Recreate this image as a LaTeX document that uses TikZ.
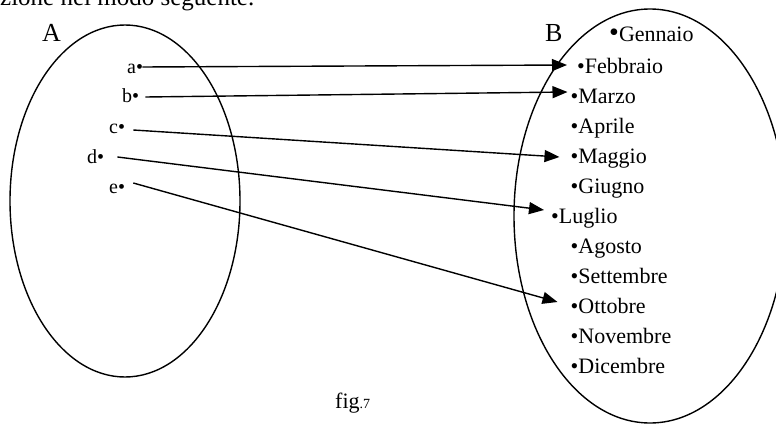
\documentclass[tikz,border=0pt]{standalone}
\usepackage{fontspec}
\setmainfont{Liberation Serif}
\usetikzlibrary{arrows.meta,calc}
\begin{document}
\begin{tikzpicture}[x=1pt,y=-1pt,
  lbl/.style={inner sep=0pt, anchor=base west, font=\fontsize{20}{24}\selectfont},
  mon/.style={inner sep=0pt, anchor=base west, font=\fontsize{22}{26}\selectfont},
  setname/.style={inner sep=0pt, anchor=base west, font=\fontsize{26}{30}\selectfont},
  conn/.style={line width=1.4pt, -{Triangle[length=15pt,width=12pt]}},
  setline/.style={line width=1.4pt}]
\useasboundingbox (0,0) rectangle (776,425);
\clip (0,0) rectangle (776,425);
\node[inner sep=0pt, anchor=base west, font=\fontsize{25}{30}\selectfont] (top) at (0,6) {zione nel modo seguente.};
% sets
\draw[setline] (125,201) ellipse [x radius=115, y radius=176];
\draw[setline] (650,216) ellipse [x radius=136, y radius=207];
\node[setname] (A) at (42,42) {A};
\node[setname] (B) at (545,42) {B};
% domain
\node[lbl] (a) at (127,74) {a•};
\node[lbl] (b) at (122,103) {b•};
\node[lbl] (c) at (109,133) {c•};
\node[lbl] (d) at (87,163) {d•};
\node[lbl] (e) at (109,193) {e•};
% codomain
\node[mon] (gen) at (609,42) {{\fontsize{28}{30}\selectfont •}Gennaio};
\node[mon] (feb) at (577,74) {•Febbraio};
\node[mon] (mar) at (570.5,104) {•Marzo};
\node[mon] (apr) at (570.5,133) {•Aprile};
\node[mon] (mag) at (570.5,163) {•Maggio};
\node[mon] (giu) at (570.5,193) {•Giugno};
\node[mon] (lug) at (551,223) {•Luglio};
\node[mon] (ago) at (570.5,253) {•Agosto};
\node[mon] (set) at (570.5,283) {•Settembre};
\node[mon] (ott) at (570.5,313) {•Ottobre};
\node[mon] (nov) at (570.5,343) {•Novembre};
\node[mon] (dic) at (570.5,373) {•Dicembre};
% arrows
\draw[conn] ($(a.base east)+(-1,-7)$) -- ($(feb.base west)+(-10,-9)$);
\draw[conn] ($(b.base east)+(6,-6)$) -- ($(mar.base west)+(-3,-12)$);
\draw[conn] ($(c.base east)+(8,-3)$) -- ($(mag.base west)+(-11,-6)$);
\draw[conn] ($(d.base east)+(13,-6)$) -- ($(lug.base west)+(-7,-13)$);
\draw[conn] ($(e.base east)+(8,-10)$) -- ($(ott.base west)+(-13,-11)$);
% caption
\node[inner sep=0pt, anchor=base west] (fig) at (335,408) {{\fontsize{22}{26}\selectfont fig}{\fontsize{14}{16}\selectfont.7}};
\end{tikzpicture}
\end{document}
